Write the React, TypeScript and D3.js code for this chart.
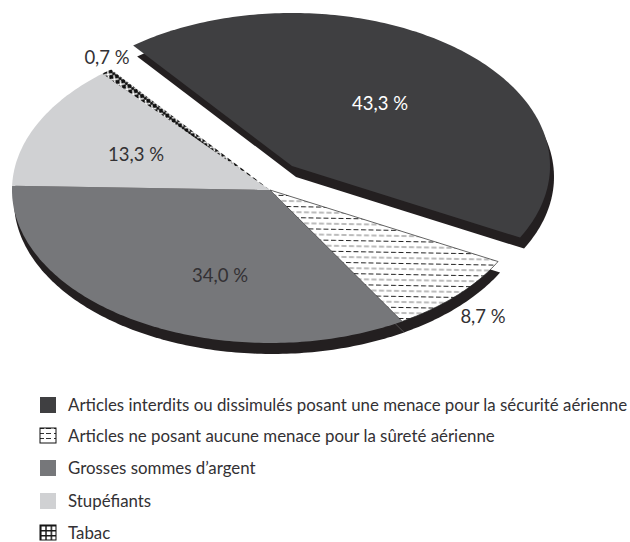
import React from "react";
import * as d3 from "d3";

const categories = [
  "Articles interdits ou dissimulés posant une menace pour la sécurité aérienne",
  "Articles ne posant aucune menace pour la sûreté aérienne",
  "Grosses sommes d’argent",
  "Stupéfiants",
  "Tabac",
];
const values = [43.3, 8.7, 34.0, 13.3, 0.7];
const valueLabels = ["43,3 %", "8,7 %", "34,0 %", "13,3 %", "0,7 %"];
const fills = ["#3f3f41", "url(#dash)", "#76777a", "#d0d1d3", "url(#cross)"];
const legendFills = ["#3f3f41", "url(#dashLegend)", "#76777a", "#d0d1d3", "url(#grid)"];
const labelX = [380, 483, 220, 136, 107];
const labelY = [110, 323, 282, 161, 64];
const legendY = [405, 436, 468, 501, 533];
const explodeDx = [22, 0, 0, 0, 0];
const explodeDy = [-24, 0, 0, 0, 0];

const FONT = "Lato,'Open Sans',sans-serif";
const cx = 270, cy = 190, rx = 258, ry = 153;
const sx = d3.scaleLinear().domain([-1, 1]).range([cx - rx, cx + rx]);
const sy = d3.scaleLinear().domain([-1, 1]).range([cy - ry, cy + ry]);
const startAngle = (-38 * Math.PI) / 180;
const arcs = d3.pie<number>().sort(null).startAngle(startAngle).endAngle(startAngle + 2 * Math.PI)(values);
const line = d3.line<[number, number]>();

function slicePath(a0: number, a1: number, dx: number, dy: number) {
  const n = Math.max(4, Math.ceil((a1 - a0) * 60));
  const pts: [number, number][] = [[sx(0) + dx, sy(0) + dy]];
  for (let i = 0; i <= n; i++) {
    const a = a0 + ((a1 - a0) * i) / n;
    pts.push([sx(Math.sin(a)) + dx, sy(-Math.cos(a)) + dy]);
  }
  return line(pts) + "Z";
}

export default function App() {
  return (
    <svg width={630} height={542} style={{ position: "absolute", left: 0, top: 0 }}>
      <defs>
        <pattern id="dash" width="7.5" height="11" patternUnits="userSpaceOnUse" patternTransform="translate(1 2) skewY(1)">
          <rect width="7.5" height="11" fill="#fff" />
          <path d="M0 1.5H5" stroke="#111" strokeWidth="0.9" />
          <path d="M3 7H8M-4.5 7H0.5" stroke="#777" strokeWidth="1.2" />
        </pattern>
        <pattern id="dashLegend" width="15" height="5" patternUnits="userSpaceOnUse" y="431">
          <rect width="15" height="5" fill="#fff" />
          <path d="M1 2.5H6M9 2.5H14" stroke="#333" strokeWidth="1.1" />
        </pattern>
        <pattern id="cross" width="8" height="8" patternUnits="userSpaceOnUse" patternTransform="translate(105 72) rotate(38) translate(0 -4)">
          <rect width="8" height="8" fill="#111" />
          <path d="M1 1L7 7M7 1L1 7" stroke="#fff" strokeWidth="1.6" />
        </pattern>
        <pattern id="grid" x="40" y="525" width="5.3" height="5" patternUnits="userSpaceOnUse">
          <rect width="5.3" height="5" fill="#fff" />
          <path d="M0 0H5.3M0 0V5" stroke="#1a1a1a" strokeWidth="3" />
        </pattern>
      </defs>
      {arcs.map((a, i) => (
        <path key={"rim" + i} d={slicePath(a.startAngle, a.endAngle, explodeDx[i] + (i === 0 ? 4 : 2), explodeDy[i] + 11)} fill="#231f20" />
      ))}
      {arcs.map((a, i) => (
        <path
          key={"top" + i}
          d={slicePath(a.startAngle, a.endAngle, explodeDx[i], explodeDy[i])}
          fill={fills[i]}
          stroke={i === 1 ? "#222" : "none"}
          strokeWidth={i === 1 ? 0.7 : 0}
        />
      ))}
      <g fontFamily={FONT} fontSize={18.5} textAnchor="middle">
        {valueLabels.map((t, i) => (
          <text key={t} x={labelX[i]} y={labelY[i]} fill={i === 0 ? "#fff" : "#333134"}>{t}</text>
        ))}
      </g>
      {categories.map((c, i) => (
        <g key={c}>
          <rect x={40} y={legendY[i] - 8} width={16} height={i === 1 || i === 4 ? 15 : 16} fill={legendFills[i]} stroke={i === 1 || i === 4 ? "#111" : "none"} strokeWidth={1} />
          <text x={68} y={legendY[i] + 6} fontFamily={FONT} fontSize={16.87} fill="#333134">{c}</text>
        </g>
      ))}
    </svg>
  );
}
